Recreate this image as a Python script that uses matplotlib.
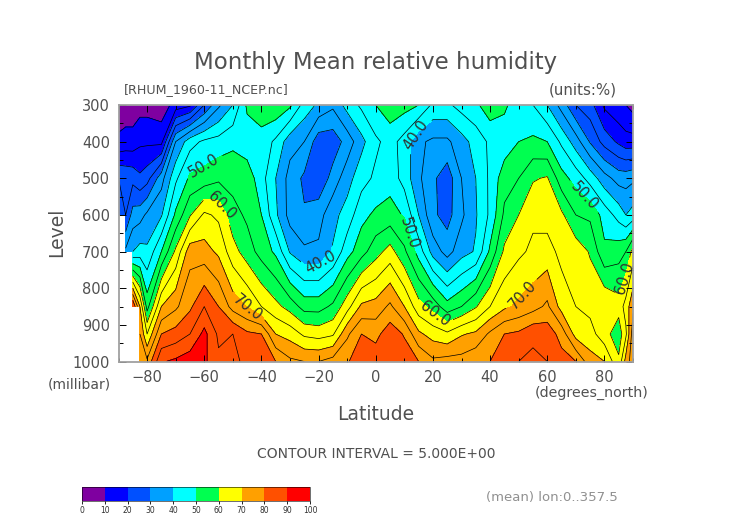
import numpy as np
import matplotlib

matplotlib.use("Agg")
import matplotlib.pyplot as plt
from matplotlib.colors import ListedColormap, BoundaryNorm
from matplotlib.ticker import MultipleLocator

nan = np.nan

lats = [-90, -87.5, -85, -82.5, -80, -75, -70, -65, -60, -55, -50, -45, -40, -35, -30, -25, -20, -15, -10, -5,
        0, 5, 10, 15, 20, 25, 30, 35, 40, 45, 50, 55, 60, 65, 70, 75, 80, 85, 87.5, 90]
levels_mb = [300, 400, 500, 600, 700, 850, 925, 1000]

rh_300 = [7, 7, 7, 8, 8, 7, 12, 14, 25, 34, 40, 51, 53, 54, 51, 43, 39, 36, 42, 46,
          50, 53, 52, 50, 44, 44, 47, 49, 53, 51, 47, 45, 40, 33, 25, 22, 14, 11, 10, 8]
rh_400 = [11, 12, 12, 14, 14, 13.5, 35, 43, 46, 47, 49, 47, 48, 44, 37, 35, 27, 27, 32, 38.5,
          44, 47, 43, 36, 34, 34, 38, 42, 46, 47, 50, 51, 50, 44, 37.5, 29.5, 23, 19, 17, 17]
rh_500 = [25, 24, 23.5, 21, 23, 33, 44, 51, 52, 54, 53, 53, 47, 40, 33, 29, 26, 32, 38, 43,
          46, 48, 43, 36, 31, 27, 35, 40, 46, 53, 55, 59.5, 60.5, 52, 48, 43, 37, 33, 33, 34]
rh_600 = [30, 25, 32, 33, 36, 39.5, 51, 59.5, 66, 64, 57, 54, 50, 41, 33, 30.5, 33, 38.5, 42, 48.5,
          51, 52, 49.5, 40, 31, 28, 34, 39.5, 46, 56, 60, 64, 63, 61, 55, 54, 48, 43, 40, 42]
rh_700 = [nan, 36, 40, 42, 41, 50, 61, 73, 72, 69, 62, 57.5, 53, 49, 39.5, 36, 36, 40.5, 48, 53,
          58, 62, 56, 48, 38, 33, 38, 40.5, 51, 61, 64, 66, 67, 63.5, 63, 59.5, 51, 53, 55, 62]
rh_850 = [nan, nan, 85, 70, 53, 70, 74, 79, 85, 80, 73, 69.7, 65, 61.5, 58, 53, 53, 56, 63, 71,
          72, 76, 70, 62, 58, 52, 55, 59.5, 65, 69, 71, 73, 76, 68, 65, 63.5, 65, 62, 67, 74]
rh_925 = [nan, nan, nan, 75, 65, 80, 82, 85, 91.5, 84, 85, 81, 80, 70, 68, 64, 63, 64.3, 74, 80,
          78.5, 83, 79.5, 71, 68, 66, 69.5, 71, 76, 80, 81, 84, 83, 78, 68, 67, 62, 57, 64, 78]
rh_1000 = [nan, nan, nan, 76, 76, 89.5, 91, 93, 91, 86, 86, 84, 84, 80, 76, 75, 75, 77, 79.5, 83,
           83, 84, 83, 80, 76, 77, 77, 79, 80, 84, 85, 86, 85, 82, 80, 72, 70, 61, 72, 78]

band_colors = ["#7f00a0", "#0000ff", "#0050ff", "#00a0ff", "#00ffff",
               "#00ff50", "#ffff00", "#ffa000", "#ff5000", "#ff0000"]
fill_levels = [0, 10, 20, 30, 40, 50, 60, 70, 80, 90, 100]
line_levels = [5, 10, 15, 20, 25, 30, 35, 45, 55, 65, 75, 80, 85, 90, 95]
labelled_levels = [40, 50, 60, 70]

# label positions (lat, level) along the contours
label_spots = [(-59.8, 472), (-56, 582), (-44, 842), (-20, 724), (15, 387),
               (11.7, 650), (21, 866), (51.5, 820), (72.8, 551), (86, 770)]

W, H = 752, 532
TEXT = "#505050"


def main():
    rh = np.array([rh_300, rh_400, rh_500, rh_600, rh_700, rh_850, rh_925, rh_1000])
    rh = np.ma.masked_invalid(rh)

    fig = plt.figure(figsize=(W / 100, H / 100), dpi=100)
    ax = fig.add_axes([118.5 / W, 1 - 361.5 / H, (633 - 118.5) / W, (361.5 - 105) / H])

    cmap = ListedColormap(band_colors)
    norm = BoundaryNorm(fill_levels, cmap.N)
    cf = ax.contourf(lats, levels_mb, rh, levels=fill_levels, cmap=cmap, norm=norm, corner_mask=False)
    ax.contour(lats, levels_mb, rh, levels=line_levels, colors="k", linewidths=0.5, corner_mask=False)
    cs = ax.contour(lats, levels_mb, rh, levels=labelled_levels, colors="k", linewidths=0.5, corner_mask=False)
    labels = cs.clabel(manual=label_spots, fmt="%.1f", fontsize=10.5, inline=True)
    for t in labels:
        t.set_color("#303030")
        # y axis is flipped, clabel gets the angle backwards
        t.set_rotation(-t.get_rotation())

    ax.set_xlim(-90, 90)
    ax.set_ylim(1000, 300)
    ax.xaxis.set_major_locator(MultipleLocator(20))
    ax.xaxis.set_minor_locator(MultipleLocator(10))
    ax.yaxis.set_major_locator(MultipleLocator(100))
    ax.yaxis.set_minor_locator(MultipleLocator(50))
    ax.tick_params(which="major", direction="in", length=5, width=0.7, top=True, right=True,
                   labelsize=10.5, labelcolor=TEXT, pad=6)
    ax.tick_params(which="minor", direction="in", length=3, width=0.7, top=True, right=True)
    for spine in ax.spines.values():
        spine.set_color("#a0a0a0")
        spine.set_linewidth(1.3)

    def label(x, y, s, size, ha="center", color=TEXT, rotation=0):
        fig.text(x / W, 1 - y / H, s, fontsize=size, ha=ha, va="center", color=color, rotation=rotation)

    label(376, 62, "Monthly Mean relative humidity", 16.5)
    label(124, 90, "[RHUM_1960-11_NCEP.nc]", 9.1, ha="left")
    label(617, 90, "(units:%)", 10.9, ha="right")
    label(57, 232, "Level", 13.5, rotation=90)
    label(376, 415, "Latitude", 13.5)
    label(111, 384, "(millibar)", 10, ha="right")
    label(649, 393, "(degrees_north)", 10.3, ha="right")
    label(376, 454, "CONTOUR INTERVAL = 5.000E+00", 10)
    label(618, 497, "(mean) lon:0..357.5", 9.5, ha="right", color="#909090")

    cax = fig.add_axes([82 / W, 1 - 501 / H, (310 - 82) / W, 14 / H])
    cb = fig.colorbar(cf, cax=cax, orientation="horizontal", ticks=fill_levels, drawedges=False)
    cb.outline.set_linewidth(0.4)
    cb.ax.tick_params(length=2, width=0.6, labelsize=5.5, pad=1.5, labelcolor="#303030")

    fig.savefig("out.png", dpi=100)


if __name__ == "__main__":
    main()
